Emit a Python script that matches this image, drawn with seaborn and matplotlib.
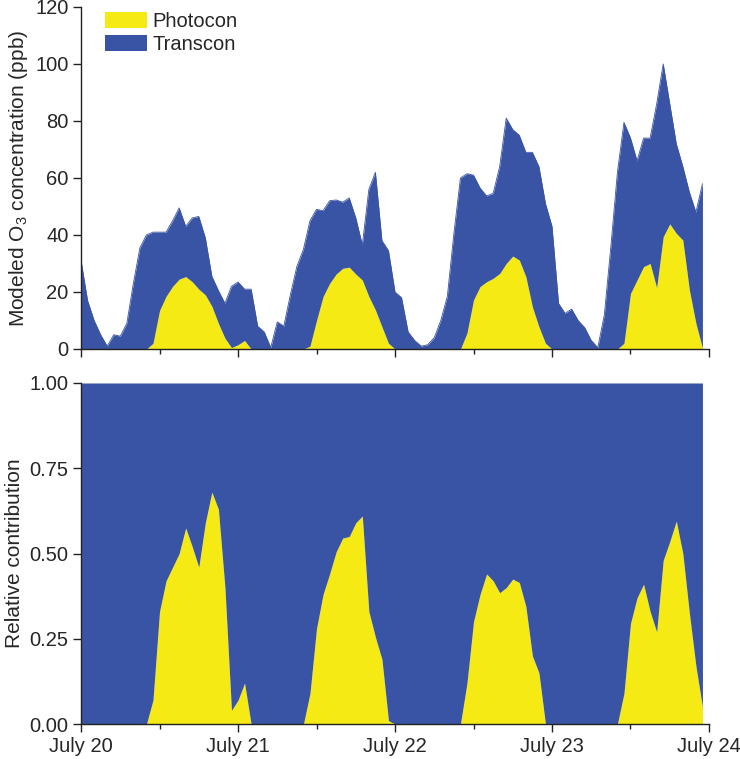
import numpy as np
import pandas as pd
import matplotlib
matplotlib.use("Agg")
import matplotlib.pyplot as plt
from matplotlib.patches import Patch
from matplotlib.ticker import MultipleLocator
import seaborn as sns

# ---------------- data (hourly, starting July 20 00:00) ----------------
hours = list(range(96))

photocon = [0, 0, 0, 0, 0, 0, 0, 0, 0, 0, 0, 2, 13.5, 18.5, 22, 24.5,
            25.4, 23.6, 21, 19, 15, 9, 3.8, 0.5, 1.5, 3, 0, 0, 0, 0, 0, 0,
            0, 0, 0, 1, 10, 18.4, 23, 26.3, 28.3, 28.7, 26.3, 24.2, 18.4, 13.7, 7.8, 2,
            0, 0, 0, 0, 0, 0, 0, 0, 0, 0, 0, 5.6, 17.2, 21.9, 23.6, 24.8,
            26.5, 30, 32.6, 31.2, 25.4, 14.8, 7.8, 2, 0, 0, 0, 0, 0, 0, 0, 0,
            0, 0, 0, 2, 19.5, 24.2, 28.9, 30, 21.5, 39.4, 43.9, 40.6, 38.2, 20.7, 9, 0.3]

total = [31, 17, 10, 5, 1, 5, 4.5, 9, 23, 35.5, 40, 41, 41, 41, 45, 49.5,
         43, 46, 46.5, 39, 25.5, 20.5, 16, 22, 23.5, 21, 21, 8, 6, 0.5, 9.5, 8,
         19, 29, 35, 45, 49, 48.5, 52, 52.3, 51.5, 53, 46, 36.5, 56, 62, 38, 34.5,
         20, 18, 6, 3, 1, 1.5, 4, 10, 18.5, 40.5, 60, 61.5, 61, 56.5, 53.7, 54.6,
         64, 81, 77, 75, 69, 69, 64, 51, 43, 16, 12.5, 14, 10, 7.5, 3, 0.5,
         12, 36, 62, 79.5, 74, 66, 74, 74, 86, 100, 86, 72, 64, 55, 48, 58]

ratio = [0, 0, 0, 0, 0, 0, 0, 0, 0, 0, 0, 0.07, 0.33, 0.42, 0.46, 0.50,
         0.575, 0.52, 0.46, 0.59, 0.68, 0.63, 0.40, 0.04, 0.07, 0.12, 0, 0, 0, 0, 0, 0,
         0, 0, 0, 0.09, 0.28, 0.38, 0.44, 0.505, 0.545, 0.55, 0.59, 0.61, 0.33, 0.255, 0.19, 0.01,
         0, 0, 0, 0, 0, 0, 0, 0, 0, 0, 0, 0.12, 0.30, 0.38, 0.44, 0.42,
         0.385, 0.40, 0.425, 0.415, 0.345, 0.20, 0.15, 0.0, 0, 0, 0, 0, 0, 0, 0, 0,
         0, 0, 0, 0.09, 0.295, 0.37, 0.41, 0.33, 0.27, 0.48, 0.535, 0.595, 0.50, 0.325, 0.17, 0.05]

series_names = ["Photocon", "Transcon"]
day_ticks = [0, 24, 48, 72, 96]
day_labels = ["July 20", "July 21", "July 22", "July 23", "July 24"]
conc_ticks = [0, 20, 40, 60, 80, 100, 120]
rel_ticks = [0.0, 0.25, 0.5, 0.75, 1.0]
rel_labels = ["0.00", "0.25", "0.50", "0.75", "1.00"]

YELLOW = "#F5EA14"
BLUE = "#3A54A5"

df = pd.DataFrame({"hour": hours, "photocon": photocon, "total": total, "ratio": ratio})

# ---------------- style ----------------
sns.set_theme(style="ticks")
plt.rcParams["font.family"] = ["Liberation Sans", "DejaVu Sans"]
plt.rcParams["axes.linewidth"] = 1.0
plt.rcParams["axes.edgecolor"] = "#222222"

fig = plt.figure(figsize=(7.4, 7.59), dpi=100)
ax1 = fig.add_axes([0.1095, 0.5402, 0.8486, 0.4506])
ax2 = fig.add_axes([0.1095, 0.0461, 0.8486, 0.4493])

# top panel: stacked concentrations
ax1.fill_between(df["hour"], 0, df["photocon"], color=YELLOW, lw=0)
ax1.fill_between(df["hour"], df["photocon"], df["total"], color=BLUE, lw=0)
sns.lineplot(data=df, x="hour", y="total", ax=ax1, color=BLUE, lw=0.6)

# bottom panel: relative contribution
ax2.fill_between(df["hour"], 0, df["ratio"], color=YELLOW, lw=0)
ax2.fill_between(df["hour"], df["ratio"], 1.0, color=BLUE, lw=0)

for ax in (ax1, ax2):
    ax.set_xlim(0, 96)
    ax.set_xticks(day_ticks)
    ax.xaxis.set_minor_locator(MultipleLocator(12))
    ax.tick_params(axis="both", which="major", direction="out", length=6, width=1.0,
                   labelsize=14.5, color="#222222", pad=3)
    ax.tick_params(axis="x", which="minor", direction="out", length=3.5, width=1.0,
                   color="#222222")
    ax.set_xlabel("")
    sns.despine(ax=ax)

ax1.set_ylim(0, 120)
ax1.set_yticks(conc_ticks)
ax1.set_xticklabels([])
ax1.set_ylabel("Modeled O$_\\mathregular{3}$ concentration (ppb)", fontsize=15, labelpad=4)

ax2.set_ylim(0, 1.0)
ax2.set_yticks(rel_ticks)
ax2.set_yticklabels(rel_labels)
ax2.set_xticklabels(day_labels)
ax2.set_ylabel("Relative contribution", fontsize=15, labelpad=4)

handles = [Patch(facecolor=YELLOW, edgecolor="none"), Patch(facecolor=BLUE, edgecolor="none")]
ax1.legend(handles, series_names, loc="upper left", bbox_to_anchor=(0.038, 0.985),
           frameon=False, fontsize=14.5, handlelength=2.08, handleheight=0.8,
           handletextpad=0.3, labelspacing=0.2, borderpad=0, borderaxespad=0)

fig.savefig("out.png", dpi=100)
